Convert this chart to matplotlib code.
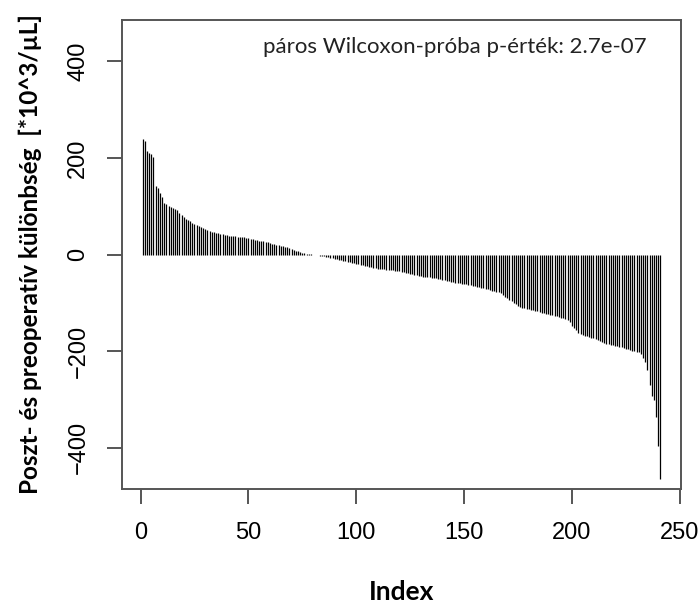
import numpy as np
import matplotlib.pyplot as plt

# Poszt- és preoperatív különbség, csökkenő sorrendben (241 beteg)
kulonbseg = [
    240, 235, 214, 211, 209, 203, 141, 137, 128, 120,
    106, 104, 100, 99, 97, 95, 92, 86, 81, 78,
    73, 71, 69, 66, 64, 61, 60, 58, 55, 52,
    50, 48, 47, 46, 45, 44, 43, 42, 41, 40,
    39, 39, 38, 38, 37, 37, 36, 36, 35, 34,
    33, 32, 31, 30, 29, 28, 27, 26, 25, 23,
    22, 21, 20, 19, 18, 17, 16, 15, 13, 12,
    10, 8, 7, 5, 4, 3, 2, 2, 1, 0,
    -1, -2, -3, -3, -4, -5, -6, -7, -8, -9,
    -10, -11, -12, -13, -14, -15, -16, -17, -18, -19,
    -20, -21, -22, -23, -24, -25, -26, -27, -28, -29,
    -30, -31, -31, -32, -32, -33, -33, -34, -35, -35,
    -36, -37, -38, -39, -40, -41, -42, -43, -44, -45,
    -46, -46, -47, -47, -48, -48, -49, -50, -51, -52,
    -53, -54, -55, -56, -57, -58, -59, -60, -61, -62,
    -62, -63, -64, -65, -66, -67, -68, -69, -70, -71,
    -72, -73, -75, -76, -77, -78, -80, -83, -87, -90,
    -94, -97, -100, -103, -106, -108, -110, -111, -112, -113,
    -114, -115, -117, -118, -120, -121, -122, -123, -124, -125,
    -126, -127, -128, -129, -131, -132, -134, -136, -140, -148,
    -152, -157, -162, -165, -167, -168, -169, -170, -172, -173,
    -175, -177, -179, -181, -183, -185, -186, -187, -188, -189,
    -190, -191, -192, -193, -195, -196, -197, -199, -200, -201,
    -203, -206, -214, -223, -240, -271, -294, -302, -337, -396, -465,
]
index = np.arange(1, len(kulonbseg) + 1)

x_ticks = [0, 50, 100, 150, 200, 250]
y_ticks = [-400, -200, 0, 200, 400]
p_text = 'páros Wilcoxon-próba p-érték: 2.7e-07'

axis_col = '#555555'
label_font = ['Lato', 'DejaVu Sans']
tick_font = ['Liberation Sans', 'DejaVu Sans']

fig = plt.figure(figsize=(7, 6.06), dpi=100)
ax = fig.add_axes([0.1743, 0.193, 0.7986, 0.774])

# R-szerű type="h" ábra: függőleges vonalak a nullától
ax.vlines(index, 0, kulonbseg, colors='black', linewidth=0.9)

ax.set_xlim(-8.6, 250.6)
ax.set_ylim(-486, 486)
ax.set_xticks(x_ticks)
ax.set_yticks(y_ticks)
ax.set_xticklabels([str(t) for t in x_ticks], family=tick_font, fontsize=17)
ax.set_yticklabels([str(t).replace('-', '\u2212') for t in y_ticks],
                   family=tick_font, fontsize=17, rotation=90, va='center')

for s in ax.spines.values():
    s.set_color(axis_col)
    s.set_linewidth(1.4)
ax.tick_params(axis='both', length=10.5, width=1.4, color=axis_col, pad=13)

ax.set_xlabel('Index', family=label_font, fontweight='bold', fontsize=19,
              labelpad=26)
ax.set_ylabel('Poszt- és preoperatív különbség  [*10^3/µL]', family=label_font,
              fontweight='bold', fontsize=17.5, labelpad=18)

ax.text(0.939, 0.942, p_text, transform=ax.transAxes, family=label_font,
        fontsize=16, color='#222222', ha='right', va='center')

fig.savefig('out.png', dpi=100)
